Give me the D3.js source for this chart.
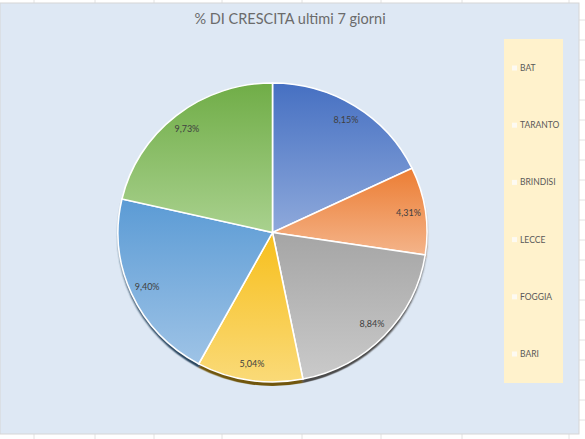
<!DOCTYPE html>
<html>
<head>
<meta charset="utf-8">
<script src="https://cdn.jsdelivr.net/npm/d3@7"></script>
<style>
  body { margin: 0; background: #fff; }
  svg { display: block; }
</style>
</head>
<body>
<div id="chart"></div>
<script>
// dati: % di crescita ultimi 7 giorni per provincia
var regions = ["BAT", "TARANTO", "BRINDISI", "LECCE", "FOGGIA", "BARI"];
var values = [8.15, 4.31, 8.84, 5.04, 9.40, 9.73];
var darkColors = ["#4670c2", "#ec7d33", "#a5a5a5", "#f7bf1c", "#5b9bd5", "#70ad47"];
var lightColors = ["#8ea9db", "#f4b48a", "#cacaca", "#fada78", "#9ec3e6", "#a9d18e"];

var W = 585, H = 439;
var cx = 272.5, cy = 232.5, rx = 154.5, ry = 149.5;

var it = d3.formatLocale({decimal: ",", thousands: ".", grouping: [3], currency: ["€", ""]});
var fmt = it.format(".2f");

var svg = d3.select("#chart")
    .append("svg")
    .attr("width", W)
    .attr("height", H);

// celle del foglio dietro al grafico
var colLines = [34, 95, 154, 222, 302, 381, 462, 569];
svg.selectAll("line.col")
    .data(colLines)
  .enter().append("line")
    .attr("x1", d => d).attr("x2", d => d)
    .attr("y1", 0).attr("y2", H)
    .style("stroke", "#e2e2e2");
var rowLines = [20, 40, 60, 80, 100, 120, 140, 160, 180, 200, 220, 240, 260, 280, 300, 320, 340, 360, 380, 400, 420];
svg.selectAll("line.row")
    .data(rowLines)
  .enter().append("line")
    .attr("x1", 570).attr("x2", W)
    .attr("y1", d => d).attr("y2", d => d)
    .style("stroke", "#e2e2e2");

// area del grafico
svg.append("rect")
    .attr("x", 0).attr("y", 3)
    .attr("width", 579).attr("height", 431)
    .style("fill", "#dee8f4")
    .style("stroke", "#d6d6d6");

svg.append("text")
    .attr("x", 290).attr("y", 24)
    .attr("text-anchor", "middle")
    .style("font-family", "Lato, 'Open Sans', sans-serif")
    .style("font-size", "14.5px")
    .style("fill", "#6b6b6b")
    .text("% DI CRESCITA ultimi 7 giorni");

var defs = svg.append("defs");
defs.selectAll("linearGradient")
    .data(regions)
  .enter().append("linearGradient")
    .attr("id", (d, i) => "g" + i)
    .attr("x1", 0.5).attr("y1", 0)
    .attr("x2", 0.5).attr("y2", 1)
    .each(function(d, i) {
      d3.select(this).append("stop").attr("offset", "0%").attr("stop-color", darkColors[i]);
      d3.select(this).append("stop").attr("offset", "100%").attr("stop-color", lightColors[i]);
    });
defs.append("filter").attr("id", "blur")
  .append("feGaussianBlur").attr("stdDeviation", 0.8);

var pie = d3.pie().sort(null).value(d => d);
var arcs = pie(values);
var arc = d3.arc().innerRadius(0).outerRadius(rx);
var labelArc = d3.arc().innerRadius(rx * 0.89).outerRadius(rx * 0.89);

var g = svg.append("g")
    .attr("transform", `translate(${cx},${cy}) scale(1,${ry / rx})`);

// bordo 3D / ombra sotto la torta
g.append("g")
    .attr("transform", "translate(0,4)")
    .attr("filter", "url(#blur)")
  .selectAll("path")
    .data(arcs)
  .enter().append("path")
    .attr("d", arc)
    .style("fill", (d, i) => d3.color(darkColors[i]).darker(2.2));

g.selectAll("path.slice")
    .data(arcs)
  .enter().append("path")
    .attr("class", "slice")
    .attr("d", arc)
    .style("fill", (d, i) => `url(#g${i})`)
    .style("stroke", "#fff")
    .style("stroke-width", 1.6);

var labels = svg.append("g")
    .attr("transform", `translate(${cx},${cy})`);
labels.selectAll("text")
    .data(arcs)
  .enter().append("text")
    .attr("transform", d => {
      var c = labelArc.centroid(d);
      return `translate(${c[0]},${c[1] * ry / rx})`;
    })
    .attr("text-anchor", "middle")
    .attr("dy", "0.35em")
    .style("font-family", "Lato, 'Open Sans', sans-serif")
    .style("font-size", "9px")
    .style("fill", "#404040")
    .text(d => fmt(d.data) + "%");

// legenda
var legend = svg.append("g");
legend.append("rect")
    .attr("x", 504).attr("y", 39)
    .attr("width", 59).attr("height", 344)
    .style("fill", "#fff2cc");

var ly = d3.scalePoint().domain(regions).range([68, 354]);
var items = legend.selectAll("g.item")
    .data(regions)
  .enter().append("g")
    .attr("class", "item")
    .attr("transform", d => `translate(512,${ly(d)})`);
items.append("rect")
    .attr("x", 0).attr("y", -2.5)
    .attr("width", 5).attr("height", 5)
    .style("fill", "#fdfaf2");
items.append("text")
    .attr("x", 8).attr("dy", "0.35em")
    .style("font-family", "Lato, 'Open Sans', sans-serif")
    .style("font-size", "8.5px")
    .style("fill", "#595959")
    .text(d => d);
</script>
</body>
</html>
